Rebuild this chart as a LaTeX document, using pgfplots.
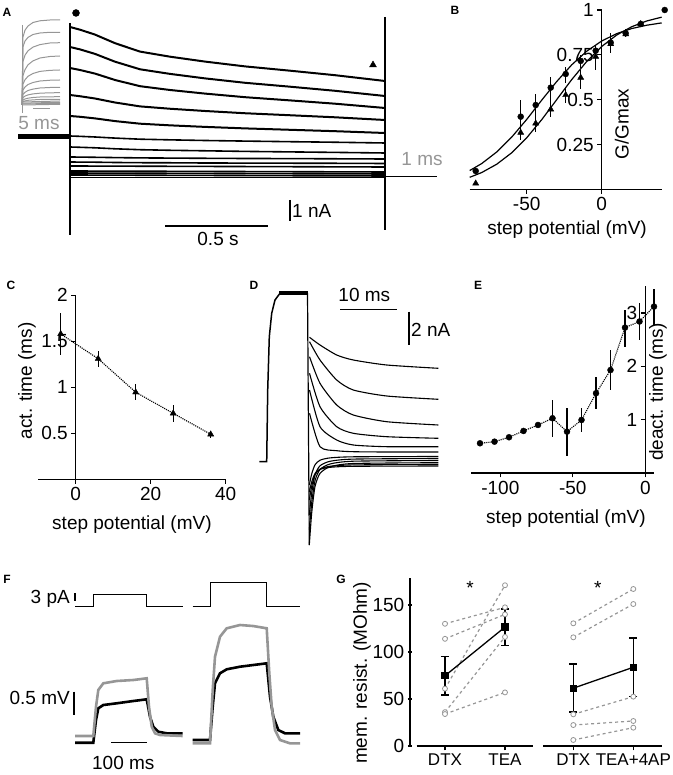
\documentclass[border=0pt]{standalone}
\usepackage{fontspec}
\setmainfont{Liberation Sans}
\usepackage{pgfplots}
\usepackage{pgfplotstable}
\pgfplotsset{compat=1.18}
\definecolor{tgray}{RGB}{150,150,150}
\newcommand{\fs}{\fontsize{19bp}{22bp}\selectfont}
\newcommand{\pl}{\bfseries\fontsize{12bp}{14bp}\selectfont}
\pgfplotsset{
  panel/.style={scale only axis, clip=false, font=\fs,
    /pgf/number format/assume math mode=true,
    axis x line=bottom, axis y line=middle,
    axis line style={-, line width=1.3bp, black},
    tick style={line width=1.3bp, black},
    major tick length=4.5bp, tick align=outside},
  canvas/.style={scale only axis, clip=false, hide axis, font=\fs,
    at={(0,0)}, anchor=south west, width=673bp, height=775bp,
    xmin=0, xmax=673, ymin=0, ymax=775, y dir=reverse},
  trace/.style={black, line width=1.6bp, no marks},
  gtrace/.style={tgray, line width=1bp, no marks},
  bar/.style={black, line width=1.3bp, no marks},
  indiv/.style={tgray, dashed, line width=1.2bp, mark=*, mark size=2.5bp,
    mark options={solid, fill=white, draw=tgray, line width=0.8bp}},
  meanp/.style={black, line width=1.3bp, mark=square*, mark size=3bp,
    error bars/.cd, y dir=both, y explicit, error bar style={line width=1.5bp},
    error mark=|, error mark options={line width=1.5bp, mark size=4bp}},
}
% ---------- panel A: main traces (pixel frame) ----------
\pgfplotstableread{
x t1 t2 t3 t4 t5 t6 t7 t8 t9
70 27 47 68 95 116 136 147 157 162
80 29.7 49.4 70 96.25 116.8 136.35 147.3 157.1 162.1
95 34.6 53.9 73.6 98.5 118.4 137 147.8 157.3 162.2
115 43.2 61.7 80 102.5 121.1 138.1 148.8 157.6 162.5
140 51.6 69.3 86.2 106.4 123.7 139.2 149.7 157.9 162.7
170 56.7 73.9 90 108.75 125.35 139.85 150.3 158.1 162.8
205 61.6 78.4 93.6 111 126.9 140.5 150.8 158.3 163
245 66.4 82.8 97.2 113.25 128.4 141.1 151.4 158.5 163.1
290 70.7 86.7 100.4 115.25 129.8 141.7 151.9 158.6 163.2
335 75.2 90.8 103.7 117.3 131.2 142.25 152.4 158.8 163.3
385 81 96 108 120 133 143 153 159 163.5
}\Atraces
\pgfplotstableread{
x i1 i2 i3 i4 i5 i6 i7 i8 i9 i10
22 105 105 105 105 105 105 105 105 105 105
23 37 46.8 61.4 75.6 84 90 94.4 97.6 100 101.6
25 30.2 41 55.2 69.7 79.8 87 92.3 96.1 99 100.9
28 26 37.4 50.8 64.8 76.3 84.5 90.5 94.9 98.2 100.3
33 22.5 34.5 47.1 60.9 73.5 82.5 89.1 93.9 97.5 99.9
40 20.8 33 44.6 58 71.4 81 88 93.2 97 99.5
50 20 32.3 43 56.5 70.35 80.25 87.5 92.8 96.8 99.35
60 20 32.3 42.7 56 70 80 87.3 92.7 96.7 99.3
}\Ainset
% ---------- panel D tails ----------
\pgfplotstableread{
x p1 p2 p3 p4 p5 p6
309.5 337.3 341.7 356.7 373.3 390 413.3
320 345 360 383.3 406.7 426.7 446.7
336.7 355 380 405 426.7 440 450.7
353.3 360 390 415 433.3 445 451.7
386.7 365 396 421.7 436.7 446.7 452
438.3 368.3 399.3 425 438.3 446.7 452
}\Dpos
\pgfplotstableread{
x n1 n2 n3 n4 n5 n6
309.3 545 530 515 500 485 492
311.7 512.9 502.9 493 486.2 473.9 481.9
315 486.6 480.7 474.9 474.8 464.8 473.5
320 473.4 469.5 465.8 469.1 460.2 469.4
330 466.8 464 461.3 466.3 457.9 467.3
353.3 463.5 461.2 459.1 464.9 456.8 466.3
438.3 462.7 460.5 458.5 464.5 456.5 466
}\Dneg
% ---------- panel B ----------
\pgfplotstableread{
x y ep em
-84 0.102 0 0
-54 0.405 0.093 0.065
-44 0.47 0.062 0.102
-34 0.567 0.061 0.078
-24 0.643 0.041 0.052
-14 0.716 0.033 0.041
-4 0.773 0.032 0.043
6 0.818 0.052 0.06
16 0.87 0.022 0.022
26 0.922 0 0
42 1.0 0 0
}\Bcirc
\pgfplotstableread{
x y ep em
-84 0.033 0 0
-54 0.316 0.043 0.041
-44 0.368 0.047 0.046
-34 0.446 0.052 0.041
-24 0.526 0.043 0.046
-14 0.623 0.042 0.065
-4 0.74 0.065 0.075
6 0.81 0 0
16 0.865 0 0
26 0.922 0 0
}\Btri
\pgfplotstableread{
x y
-88 0.1045
-80 0.1435
-70 0.208
-60 0.291
-50 0.3895
-40 0.497
-30 0.601
-20 0.694
-10 0.770
0 0.827
10 0.868
20 0.8965
30 0.915
40 0.928
}\Bfitc
\pgfplotstableread{
x y
-88 0.0668
-80 0.0934
-70 0.1397
-60 0.2036
-50 0.2873
-40 0.3883
-30 0.5
-20 0.6117
-10 0.7128
0 0.7964
10 0.8604
20 0.9066
30 0.9386
40 0.9601
}\Bfitt
% ---------- panel C ----------
\pgfplotstableread{
x y ep em
-4 1.58 0.23 0.23
6 1.31 0.08 0.09
16 0.946 0.094 0.086
26 0.717 0.093 0.097
36 0.489 0.031 0.039
}\Cdata
% ---------- panel E ----------
\pgfplotstableread{
x y ep em
-114 0.557 0.03 0.03
-104 0.587 0.03 0.03
-94 0.67 0.03 0.03
-84 0.788 0.03 0.03
-74 0.9 0.04 0.04
-64 1.026 0.334 0.346
-54 0.775 0.45 0.45
-44 0.994 0.216 0.219
-34 1.495 0.305 0.3
-24 1.93 0.37 0.37
-14 2.726 0.334 0.356
-4 2.84 0.34 0.34
6 3.12 0.32 0.35
}\Edata
\begin{document}
\begin{tikzpicture}[x=1bp,y=1bp]
\useasboundingbox (0,0) rectangle (673,775);
\begin{axis}[canvas]
% ===== A =====
\node[font=\pl] at (axis cs:7,12) {A};
\addplot[gtrace] coordinates {(22,25) (22,113)};
\foreach \c in {i1,i2,i3,i4,i5,i6,i7,i8,i9,i10}{
  \addplot[gtrace] table[x=x,y=\c]{\Ainset};
}
\addplot[gtrace] coordinates {(23,102) (60,101)};
\addplot[gtrace] coordinates {(23,103.2) (60,102.3)};
\addplot[gtrace] coordinates {(23,104) (60,103.3)};
\addplot[gtrace] coordinates {(23,105) (60,104.3)};
\addplot[tgray, line width=1.3bp] coordinates {(33,108.5) (50,108.5)};
\node[text=tgray] at (axis cs:39,123) {5 ms};
\addplot[black, line width=5bp] coordinates {(18,136.5) (70,136.5)};
\addplot[bar] coordinates {(70,23) (70,235)};
\addplot[bar] coordinates {(385,17) (385,230)};
\foreach \c in {t1,t2,t3,t4,t5}{
  \addplot[trace, line width=2bp] table[x=x,y=\c]{\Atraces};
}
\foreach \c in {t6,t7,t8,t9}{
  \addplot[trace] table[x=x,y=\c]{\Atraces};
}
\addplot[trace] coordinates {(70,166) (385,167)};
\addplot[trace] coordinates {(70,171) (385,172)};
\addplot[trace] coordinates {(70,173) (385,174)};
\addplot[trace] coordinates {(70,175) (385,176)};
\addplot[trace] coordinates {(70,177.5) (385,177.5)};
\addplot[trace] coordinates {(385,176.7) (437,176.7)};
\node[text=tgray] at (axis cs:422,159) {1 ms};
\addplot[only marks, mark=*, mark size=3.5bp, black] coordinates {(76,13)};
\addplot[only marks, mark=triangle*, mark size=4bp, black] coordinates {(373,65)};
\addplot[bar] coordinates {(165,226) (268,226)};
\node at (axis cs:218,239) {0.5 s};
\addplot[bar] coordinates {(290,200) (290,221)};
\node[anchor=west, inner sep=1bp] at (axis cs:291,211) {1 nA};
% ===== labels =====
\node[font=\pl] at (axis cs:455,10) {B};
\node[font=\pl] at (axis cs:11,285) {C};
\node[font=\pl] at (axis cs:254,285) {D};
\node[font=\pl] at (axis cs:478,285) {E};
\node[font=\pl] at (axis cs:7,579) {F};
\node[font=\pl] at (axis cs:341,579) {G};
% ===== D =====
\addplot[black, line width=1.5bp] coordinates {(259.3,461.7) (266.7,461.7) (267.7,390) (269.3,336.7) (271.7,313.3) (275,300) (280,293.3) (286.7,292.7)};
\addplot[black, line width=3.5bp] coordinates {(279,293) (307.5,293)};
\addplot[black, line width=1.2bp] coordinates {(307.5,293) (309.3,545)};
\foreach \c in {p1,p2,p3,p4,p5,p6}{
  \addplot[black, line width=1.1bp, smooth, tension=0.4] table[x=x,y=\c]{\Dpos};
}
\foreach \c in {n1,n2,n3,n4,n5,n6}{
  \addplot[black, line width=1.1bp, smooth, tension=0.4] table[x=x,y=\c]{\Dneg};
}
\addplot[bar] coordinates {(340,309.3) (396.7,309.3)};
\node at (axis cs:364.3,295) {10 ms};
\addplot[bar] coordinates {(409,311.7) (409,345)};
\node[anchor=west, inner sep=1bp] at (axis cs:410,330) {2 nA};
% ===== F =====
\addplot[black, line width=1.3bp] coordinates {(75,606.7) (93.3,606.7) (93.3,594.7) (146.7,594.7) (146.7,606.7) (182.7,606.7)};
\addplot[black, line width=1.3bp] coordinates {(192.7,606.7) (210.7,606.7) (210.7,582.7) (266.7,582.7) (266.7,606.7) (300,606.7)};
\addplot[bar] coordinates {(75,593) (75,601)};
\node[anchor=east, inner sep=1bp] at (axis cs:71,599) {3 pA};
\addplot[black, line width=2.6bp] coordinates {(75,742.7) (93.3,742.7) (96,720) (98.3,708.3) (103.3,705) (116.7,703.3) (133.3,701) (146.7,699.3) (150,716.7) (153.3,726.7) (158.3,731.7) (166.7,733.3) (182.7,733.3)};
\addplot[tgray, line width=2.6bp] coordinates {(75,736) (93.3,736) (96,706.7) (98.3,690) (103.3,683.3) (116.7,681) (133.3,680) (146.7,678.3) (149,706.7) (151.7,726.7) (155,733.3) (160,735) (182.7,736)};
\addplot[black, line width=2.6bp] coordinates {(192.7,740) (210,740) (212.7,706.7) (215,683.3) (220,673.3) (226.7,669.3) (240,666.7) (266.7,663.3) (270,696.7) (273.3,716.7) (278.3,730) (285,733.3) (300,733.3)};
\addplot[tgray, line width=2.6bp] coordinates {(192.7,743.3) (210,743.3) (212.7,690) (215,656.7) (220,636.7) (226.7,628.3) (240,625) (253,626) (266.7,628.3) (269.3,673.3) (271.7,706.7) (275,730) (280,740) (290,743.3) (300,743.3)};
\addplot[bar] coordinates {(74,691.7) (74,715)};
\node[anchor=east, inner sep=1bp] at (axis cs:71,698) {0.5 mV};
\addplot[bar] coordinates {(111,742.3) (146.7,742.3)};
\node at (axis cs:123.3,762.7) {100 ms};
\end{axis}
% ===== B =====
\begin{axis}[panel, at={(469.7bp,585.7bp)}, anchor=south west, width=192bp, height=179.3bp,
  xmin=-88, xmax=40, ymin=0, ymax=1, xtick={-50,0}, ytick={0.25,0.5,0.75,1},
  yticklabels={0.25,0.5,0.75,1}]
\addplot[black, line width=1.2bp, no marks] table[x=x,y=y]{\Bfitc};
\addplot[black, line width=1.2bp, no marks] table[x=x,y=y]{\Bfitt};
\addplot[black, only marks, mark=*, mark size=3bp, error bars/.cd, y dir=both, y explicit, error mark=none, error bar style={line width=1.3bp}] table[x=x,y=y,y error plus=ep,y error minus=em]{\Bcirc};
\addplot[black, only marks, mark=triangle*, mark size=3.5bp, error bars/.cd, y dir=both, y explicit, error mark=none, error bar style={line width=1.3bp}] table[x=x,y=y,y error plus=ep,y error minus=em]{\Btri};
\node at (axis description cs:0.507,-0.227) {step potential (mV)};
\node[rotate=90] at (axis description cs:0.792,0.364) {G/Gmax};
\end{axis}
% ===== C =====
\begin{axis}[panel, at={(38.2bp,295.7bp)}, anchor=south west, width=187.5bp, height=184bp,
  xmin=-10, xmax=40, ymin=0, ymax=2, xtick={0,20,40}, ytick={0.5,1,1.5,2},
  yticklabels={0.5,1,1.5,2}]
\addplot[black, densely dotted, line width=1.1bp, no marks] table[x=x,y=y]{\Cdata};
\addplot[black, only marks, mark=triangle*, mark size=3.5bp, error bars/.cd, y dir=both, y explicit, error mark=none, error bar style={line width=1.3bp}] table[x=x,y=y,y error plus=ep,y error minus=em]{\Cdata};
\node at (axis description cs:0.5,-0.248) {step potential (mV)};
\node[rotate=90] at (axis description cs:-0.06,0.535) {act. time (ms)};
\end{axis}
% ===== E =====
\begin{axis}[panel, at={(471.3bp,302bp)}, anchor=south west, width=182.7bp, height=186.7bp,
  xmin=-120, xmax=6, ymin=0, ymax=3.5, xtick={-100,-50,0}, ytick={1,2,3}]
\addplot[black, densely dotted, line width=1.1bp, no marks] table[x=x,y=y]{\Edata};
\addplot[black, only marks, mark=*, mark size=3bp, error bars/.cd, y dir=both, y explicit, error mark=none, error bar style={line width=1.3bp}] table[x=x,y=y,y error plus=ep,y error minus=em]{\Edata};
\node at (axis description cs:0.518,-0.246) {step potential (mV)};
\node[rotate=90] at (axis description cs:1.022,0.434) {deact. time (ms)};
\end{axis}
% ===== G1 =====
\begin{axis}[panel, axis y line=left, at={(410bp,29bp)}, anchor=south west, width=123.3bp, height=168bp,
  xmin=-0.583, xmax=1.472, ymin=0, ymax=178.7, xtick={0,1}, xticklabels={DTX,TEA},
  ytick={0,50,100,150}, x axis line style={draw=none}, y axis line style={-},
  every outer y axis line/.append style={-},
  xticklabel style={font=\fontsize{17bp}{20bp}\selectfont}]
\draw[line width=1.3bp] (axis cs:-0.472,0) -- (axis cs:1.472,0);
\addplot[indiv] coordinates {(0,130) (1,147.5)};
\addplot[indiv] coordinates {(0,114) (1,140)};
\addplot[indiv] coordinates {(0,61) (1,171)};
\addplot[indiv] coordinates {(0,36) (1,116)};
\addplot[indiv] coordinates {(0,34) (1,57)};
\addplot[meanp] coordinates {(0,74.7) +- (0,20.3) (1,126.5) +- (0,19.4)};
\node at (axis cs:0.42,168) {*};
\node[rotate=90] at (axis description cs:-0.389,0.435) {mem. resist. (MOhm)};
\end{axis}
% ===== G2 =====
\begin{axis}[panel, axis y line=none, at={(543.3bp,29bp)}, anchor=south west, width=118.4bp, height=168bp,
  xmin=-0.5, xmax=1.473, ymin=0, ymax=178.7, xtick={0,1}, xticklabels={DTX,TEA+4AP},
  xticklabel style={font=\fontsize{17bp}{20bp}\selectfont}]
\addplot[indiv] coordinates {(0,130.5) (1,167)};
\addplot[indiv] coordinates {(0,115.6) (1,151)};
\addplot[indiv] coordinates {(0,33.7) (1,52.5)};
\addplot[indiv] coordinates {(0,22.3) (1,26.6)};
\addplot[indiv] coordinates {(0,6.4) (1,19.5)};
\addplot[meanp] coordinates {(0,61.5) +- (0,25.5) (1,83.75) +- (0,31.25)};
\node at (axis cs:0.41,168) {*};
\end{axis}
\end{tikzpicture}
\end{document}
